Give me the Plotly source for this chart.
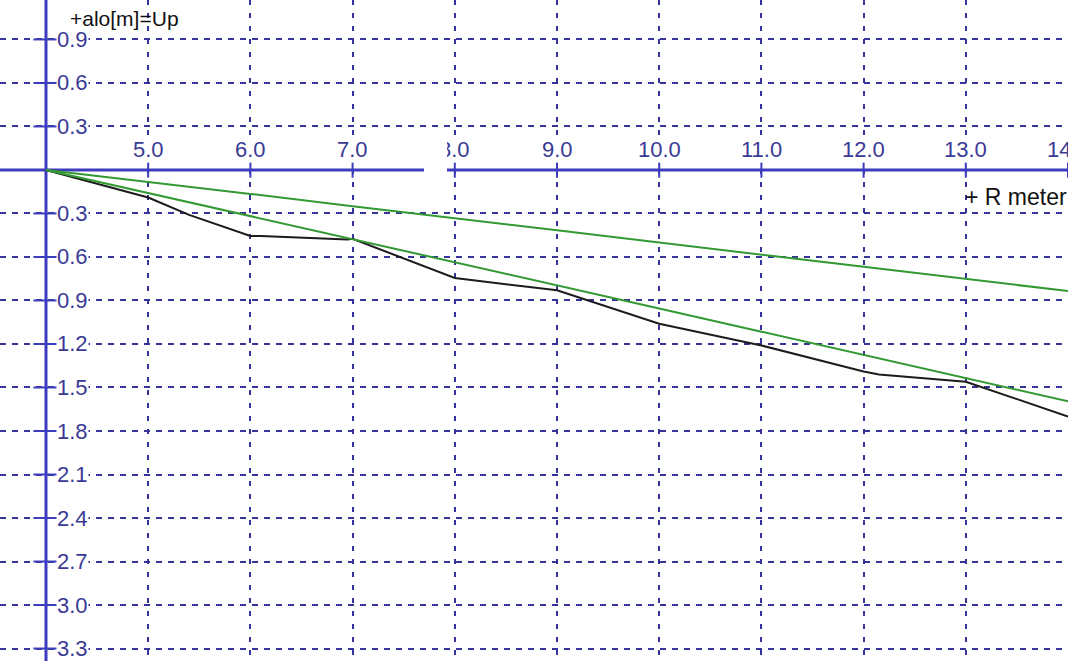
import plotly.graph_objects as go

# Distance along the profile (m) and the two reference gradients
dist = [4, 5, 6, 7, 8, 9, 10, 11, 12, 13, 14]
ref_gentle = [0.0, -0.08, -0.165, -0.25, -0.33, -0.415, -0.50, -0.585, -0.665, -0.75, -0.835]
ref_steep = [0.0, -0.16, -0.315, -0.475, -0.635, -0.795, -0.955, -1.115, -1.275, -1.435, -1.595]

# Measured profile
meas_r = [4.0, 5.0, 5.4, 6.0, 6.1, 6.95, 7.0, 8.0, 9.0, 10.0, 11.0, 12.0, 12.15, 13.0, 14.0]
meas_up = [0.0, -0.19, -0.31, -0.455, -0.455, -0.48, -0.475, -0.745, -0.83, -1.06, -1.21,
           -1.39, -1.41, -1.46, -1.70]

# Axis ticks and their printed labels
x_ticks = [5, 6, 7, 8, 9, 10, 11, 12, 13, 14]
x_tick_text = ["5.0", "6.0", "7.0", "8.0", "9.0", "10.0", "11.0", "12.0", "13.0", "14.0"]
y_ticks = [0.9, 0.6, 0.3, -0.3, -0.6, -0.9, -1.2, -1.5, -1.8, -2.1, -2.4, -2.7, -3.0, -3.3]
y_tick_text = ["0.9", "0.6", "0.3", "0.3", "0.6", "0.9", "1.2", "1.5", "1.8", "2.1",
               "2.4", "2.7", "3.0", "3.3"]

x_title = "+ R meter"
y_title = "+alo[m]=Up"

AXIS_BLUE = "#3c3cbe"
GRID_BLUE = "#34349a"
LABEL_BLUE = "#3a3a96"
GREEN = "#339933"
FONT = "Liberation Sans, Arial, sans-serif"

X0 = 4  # origin of the drawn axes

fig = go.Figure()

fig.add_trace(go.Scatter(x=meas_r, y=meas_up, mode="lines",
                         line=dict(color="#1c1c1c", width=2), hoverinfo="skip"))
fig.add_trace(go.Scatter(x=dist, y=ref_steep, mode="lines",
                         line=dict(color=GREEN, width=2), hoverinfo="skip"))
fig.add_trace(go.Scatter(x=dist, y=ref_gentle, mode="lines",
                         line=dict(color=GREEN, width=2), hoverinfo="skip"))

# Tick crosses on the two axis lines
fig.add_trace(go.Scatter(x=x_ticks, y=[0] * len(x_ticks), mode="markers",
                         marker=dict(symbol="line-ns", size=11,
                                     line=dict(color=AXIS_BLUE, width=2)),
                         hoverinfo="skip", cliponaxis=False))
fig.add_trace(go.Scatter(x=[X0] * len(y_ticks), y=y_ticks, mode="markers",
                         marker=dict(symbol="line-ew", size=18,
                                     line=dict(color=AXIS_BLUE, width=2)),
                         hoverinfo="skip", cliponaxis=False))

x_range = [3.55, 14.0]
y_range = [-3.386, 1.172]

# Axis lines through the origin
fig.add_shape(type="line", xref="x", yref="y", x0=X0, x1=X0, y0=y_range[0], y1=y_range[1],
              line=dict(color=AXIS_BLUE, width=3), layer="between")
fig.add_shape(type="line", xref="x", yref="y", x0=x_range[0], x1=x_range[1], y0=0, y1=0,
              line=dict(color=AXIS_BLUE, width=3), layer="between")

annotations = []
for v, t in zip(x_ticks, x_tick_text):
    annotations.append(dict(x=v, y=0, xref="x", yref="y", text=t, showarrow=False,
                            xanchor="center", yanchor="middle", yshift=20,
                            bgcolor="white", borderpad=0,
                            font=dict(family=FONT, size=22, color=LABEL_BLUE)))
for v, t in zip(y_ticks, y_tick_text):
    annotations.append(dict(x=X0, y=v, xref="x", yref="y", text=t, showarrow=False,
                            xanchor="left", yanchor="middle", xshift=10,
                            bgcolor="white", borderpad=0,
                            font=dict(family=FONT, size=22, color=LABEL_BLUE)))

annotations.append(dict(x=X0, y=0.9, xref="x", yref="y", text=y_title, showarrow=False,
                        xanchor="left", yanchor="middle", xshift=22, yshift=21,
                        font=dict(family=FONT, size=21, color="#111111")))
annotations.append(dict(x=13, y=0, xref="x", yref="y", text=x_title, showarrow=False,
                        xanchor="left", yanchor="middle", xshift=-3, yshift=-27,
                        font=dict(family=FONT, size=23, color="#111111")))

# Blank patch interrupting the horizontal axis just left of 8.0
annotations.append(dict(x=7.81, y=0, xref="x", yref="y", text="&nbsp;", showarrow=False,
                        xanchor="center", yanchor="middle", yshift=16,
                        width=23, height=44, bgcolor="white", borderpad=0, borderwidth=0,
                        font=dict(size=10)))

fig.update_layout(
    width=1068, height=661,
    margin=dict(l=0, r=0, t=0, b=0),
    paper_bgcolor="white", plot_bgcolor="white",
    showlegend=False,
    annotations=annotations,
    xaxis=dict(range=x_range, showgrid=True, gridcolor=GRID_BLUE, gridwidth=2,
               griddash="5px,8px", tick0=0, dtick=1, showticklabels=False,
               zeroline=False, showline=False, ticks="", fixedrange=True),
    yaxis=dict(range=y_range, showgrid=True, gridcolor=GRID_BLUE, gridwidth=2,
               griddash="6px,6px", tick0=0, dtick=0.3, showticklabels=False,
               zeroline=False, showline=False, ticks="", fixedrange=True),
)

fig.write_html("out.html", config={"displayModeBar": False})
